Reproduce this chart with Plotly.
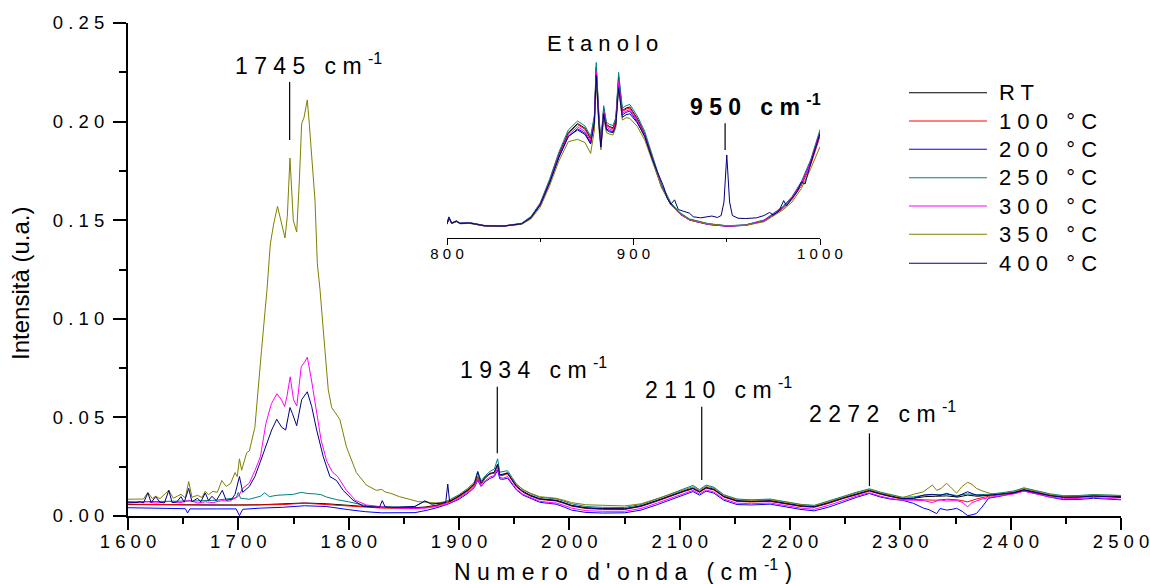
import plotly.graph_objects as go

FONT = "Arial, 'Liberation Sans', sans-serif"

# ---------------- series meta ----------------
names = ["RT", "100 °C", "200 °C", "250 °C", "300 °C", "350 °C", "400 °C"]
colors = ["#000000", "#FF0000", "#0000FF", "#008080", "#FF00FF", "#808000", "#000080"]

# ---------------- main spectra (1600-2500 cm-1) ----------------
x_rt = [1600, 1620, 1640, 1660, 1680, 1700, 1720, 1740, 1760, 1780,
        1800, 1815, 1830, 1845, 1860, 1870, 1880, 1890, 1900, 1908,
        1914, 1917, 1920, 1924, 1928, 1932, 1935, 1937, 1940, 1944,
        1948, 1952, 1958, 1965, 1973, 1981, 1988, 1995, 2002, 2015,
        2030, 2050, 2065, 2080, 2092, 2104, 2112, 2118, 2124, 2131,
        2140, 2152, 2165, 2182, 2197, 2210, 2222, 2235, 2248, 2260,
        2272, 2282, 2292, 2302, 2312, 2322, 2332, 2342, 2352, 2361,
        2370, 2380, 2392, 2403, 2412, 2424, 2436, 2448, 2462, 2475,
        2488, 2500]
y_rt = [0.0058, 0.0057, 0.0056, 0.0055, 0.0055, 0.0056, 0.0057, 0.0060, 0.0066, 0.0062,
        0.0053, 0.0048, 0.0045, 0.0043, 0.0042, 0.0046, 0.0055, 0.0072, 0.0100, 0.0130,
        0.0160, 0.0200, 0.0165, 0.0195, 0.0212, 0.0222, 0.0262, 0.0208, 0.0210, 0.0218,
        0.0185, 0.0152, 0.0125, 0.0105, 0.0088, 0.0082, 0.0080, 0.0068, 0.0054, 0.0042,
        0.0038, 0.0037, 0.0052, 0.0080, 0.0105, 0.0128, 0.0142, 0.0124, 0.0145, 0.0136,
        0.0100, 0.0078, 0.0075, 0.0078, 0.0064, 0.0052, 0.0048, 0.0068, 0.0092, 0.0112,
        0.0130, 0.0114, 0.0100, 0.0088, 0.0090, 0.0098, 0.0100, 0.0102, 0.0096, 0.0106,
        0.0100, 0.0104, 0.0112, 0.0120, 0.0134, 0.0120, 0.0105, 0.0097, 0.0098, 0.0103,
        0.0099, 0.0098]

x_100 = list(x_rt)
y_100 = [0.0060, 0.0058, 0.0056, 0.0054, 0.0054, 0.0055, 0.0055, 0.0058, 0.0065, 0.0058,
         0.0048, 0.0043, 0.0040, 0.0039, 0.0039, 0.0043, 0.0052, 0.0068, 0.0096, 0.0126,
         0.0156, 0.0196, 0.0160, 0.0192, 0.0218, 0.0215, 0.0258, 0.0204, 0.0206, 0.0214,
         0.0181, 0.0148, 0.0121, 0.0101, 0.0084, 0.0078, 0.0076, 0.0064, 0.0050, 0.0038,
         0.0034, 0.0033, 0.0048, 0.0076, 0.0101, 0.0124, 0.0138, 0.0120, 0.0141, 0.0132,
         0.0096, 0.0074, 0.0071, 0.0074, 0.0060, 0.0048, 0.0044, 0.0064, 0.0088, 0.0108,
         0.0126, 0.0110, 0.0096, 0.0085, 0.0084, 0.0082, 0.0080, 0.0085, 0.0082, 0.0072,
         0.0088, 0.0100, 0.0108, 0.0117, 0.0131, 0.0117, 0.0102, 0.0094, 0.0095, 0.0100,
         0.0096, 0.0094]

x_200 = [1600, 1620, 1640, 1652, 1654, 1656, 1680, 1698, 1701, 1704,
         1720, 1740, 1760, 1780, 1800, 1815, 1830, 1845, 1860, 1870,
         1880, 1890, 1900, 1908, 1914, 1917, 1920, 1924, 1928, 1932,
         1935, 1937, 1940, 1944, 1948, 1952, 1958, 1965, 1973, 1981,
         1988, 1995, 2002, 2015, 2030, 2050, 2065, 2080, 2092, 2104,
         2112, 2118, 2124, 2131, 2140, 2152, 2165, 2182, 2197, 2210,
         2222, 2235, 2248, 2260, 2272, 2282, 2292, 2302, 2312, 2321,
         2326, 2329, 2333, 2336, 2342, 2347, 2351, 2356, 2361, 2365,
         2369, 2374, 2380, 2392, 2403, 2412, 2424, 2436, 2448, 2462,
         2475, 2488, 2500]
y_200 = [0.0042, 0.0040, 0.0038, 0.0037, 0.0015, 0.0036, 0.0036, 0.0036, 0.0002, 0.0034,
         0.0040, 0.0044, 0.0052, 0.0048, 0.0032, 0.0022, 0.0016, 0.0015, 0.0017, 0.0028,
         0.0042, 0.0060, 0.0085, 0.0115, 0.0145, 0.0182, 0.0150, 0.0175, 0.0190, 0.0200,
         0.0232, 0.0188, 0.0186, 0.0192, 0.0162, 0.0132, 0.0106, 0.0088, 0.0070, 0.0064,
         0.0060, 0.0046, 0.0030, 0.0018, 0.0015, 0.0016, 0.0030, 0.0058, 0.0082, 0.0108,
         0.0124, 0.0106, 0.0126, 0.0116, 0.0080, 0.0058, 0.0056, 0.0060, 0.0045, 0.0033,
         0.0026, 0.0045, 0.0070, 0.0094, 0.0114, 0.0096, 0.0085, 0.0080, 0.0064, 0.0040,
         0.0032, 0.0022, 0.0012, 0.0038, 0.0030, 0.0034, 0.0039, 0.0024, 0.0002, 0.0006,
         0.0013, 0.0045, 0.0090, 0.0102, 0.0114, 0.0127, 0.0112, 0.0095, 0.0083, 0.0084,
         0.0090, 0.0086, 0.0082]

x_250 = [1600, 1620, 1640, 1660, 1680, 1698, 1700, 1702,
         1710, 1716, 1720, 1724, 1728, 1735, 1742, 1750, 1757, 1763,
         1770, 1775, 1780, 1790, 1800, 1816, 1830, 1845, 1860, 1869,
         1876, 1885, 1890, 1900, 1908, 1914, 1917, 1920, 1924, 1928,
         1932, 1935, 1937, 1940, 1944, 1948, 1952, 1958, 1965, 1973,
         1981, 1988, 1995, 2002, 2015, 2030, 2050, 2065, 2080, 2092,
         2104, 2112, 2118, 2124, 2131, 2140, 2152, 2165, 2182, 2197,
         2210, 2222, 2235, 2248, 2260, 2272, 2282, 2292, 2302, 2312,
         2322, 2332, 2342, 2352, 2361, 2370, 2380, 2392, 2403, 2412,
         2424, 2436, 2448, 2462, 2475, 2488, 2500]
y_250 = [0.0072, 0.0073, 0.0074, 0.0076, 0.0080, 0.0092, 0.0120, 0.0090,
         0.0085, 0.0095, 0.0100, 0.0118, 0.0098, 0.0105, 0.0108, 0.0110, 0.0120, 0.0114,
         0.0112, 0.0108, 0.0096, 0.0082, 0.0072, 0.0052, 0.0047, 0.0045, 0.0048, 0.0076,
         0.0062, 0.0068, 0.0078, 0.0108, 0.0140, 0.0172, 0.0228, 0.0178, 0.0205, 0.0226,
         0.0238, 0.0290, 0.0222, 0.0224, 0.0230, 0.0196, 0.0162, 0.0134, 0.0113, 0.0095,
         0.0089, 0.0087, 0.0075, 0.0062, 0.0048, 0.0044, 0.0043, 0.0058, 0.0087, 0.0113,
         0.0138, 0.0155, 0.0134, 0.0157, 0.0146, 0.0108, 0.0086, 0.0082, 0.0086, 0.0071,
         0.0059, 0.0054, 0.0075, 0.0099, 0.0120, 0.0138, 0.0121, 0.0107, 0.0095, 0.0097,
         0.0106, 0.0108, 0.0110, 0.0104, 0.0112, 0.0108, 0.0110, 0.0118, 0.0127, 0.0143,
         0.0128, 0.0112, 0.0103, 0.0104, 0.0109, 0.0106, 0.0104]

x_300 = [1600, 1611, 1618, 1625, 1637, 1648, 1655, 1663, 1670, 1677,
         1685, 1692, 1700, 1704, 1710, 1715, 1720, 1725, 1730, 1735,
         1739, 1742, 1744, 1747, 1750, 1753, 1757, 1760, 1762.5, 1766,
         1771, 1775, 1780, 1785, 1790, 1798, 1806, 1816, 1830, 1845,
         1860, 1870, 1880, 1890, 1900, 1908, 1914, 1917, 1920, 1924,
         1928, 1932, 1935, 1937, 1940, 1944, 1948, 1952, 1958, 1965,
         1973, 1981, 1988, 1995, 2002, 2015, 2030, 2050, 2065, 2080,
         2092, 2104, 2112, 2118, 2124, 2131, 2140, 2152, 2165, 2182,
         2197, 2210, 2222, 2235, 2248, 2260, 2272, 2282, 2292, 2302,
         2312, 2321, 2329, 2336, 2342, 2351, 2356, 2361, 2365, 2374,
         2385, 2395, 2403, 2412, 2424, 2436, 2448, 2462, 2475, 2488,
         2500]
y_300 = [0.0066, 0.0068, 0.0072, 0.0066, 0.0074, 0.0068, 0.0080, 0.0066, 0.0072, 0.0068,
         0.0078, 0.0075, 0.0100, 0.0140, 0.0167, 0.0230, 0.0300, 0.0470, 0.0570, 0.0620,
         0.0590, 0.0555, 0.0605, 0.0706, 0.0590, 0.0558, 0.0757, 0.0780, 0.0805, 0.0700,
         0.0520, 0.0385, 0.0280, 0.0225, 0.0200, 0.0130, 0.0080, 0.0056, 0.0046, 0.0040,
         0.0038, 0.0040, 0.0048, 0.0062, 0.0090, 0.0120, 0.0150, 0.0188, 0.0152, 0.0180,
         0.0198, 0.0205, 0.0245, 0.0195, 0.0192, 0.0200, 0.0168, 0.0136, 0.0110, 0.0092,
         0.0075, 0.0069, 0.0066, 0.0054, 0.0040, 0.0027, 0.0024, 0.0024, 0.0038, 0.0066,
         0.0090, 0.0115, 0.0130, 0.0112, 0.0132, 0.0122, 0.0086, 0.0065, 0.0062, 0.0066,
         0.0052, 0.0040, 0.0034, 0.0054, 0.0078, 0.0100, 0.0118, 0.0100, 0.0088, 0.0080,
         0.0080, 0.0078, 0.0068, 0.0082, 0.0076, 0.0078, 0.0070, 0.0047, 0.0068, 0.0086,
         0.0098, 0.0106, 0.0112, 0.0126, 0.0112, 0.0096, 0.0088, 0.0089, 0.0094, 0.0089,
         0.0085]

x_350 = [1600, 1611, 1614, 1618, 1622, 1625, 1629, 1637, 1641, 1648,
         1652, 1655, 1658, 1663, 1667, 1670, 1673, 1677, 1681, 1685,
         1689, 1693, 1697, 1699, 1701, 1703, 1707.5, 1710, 1715, 1721,
         1726, 1729, 1732, 1735.5, 1739, 1742.3, 1744.4, 1746.8, 1749.8, 1752.9,
         1755.3, 1757.4, 1759.5, 1762.5, 1764.3, 1766.8, 1769.5, 1771.6, 1774, 1778.5,
         1781.5, 1784.6, 1792, 1798, 1807, 1816, 1825, 1830, 1833, 1838,
         1846, 1855, 1863, 1870, 1880, 1890, 1900, 1908, 1914, 1917,
         1920, 1924, 1928, 1932, 1935, 1937, 1940, 1944, 1948, 1952,
         1958, 1965, 1973, 1981, 1988, 1995, 2002, 2015, 2030, 2050,
         2065, 2080, 2092, 2104, 2112, 2118, 2124, 2131, 2140, 2152,
         2165, 2182, 2197, 2210, 2222, 2235, 2248, 2260, 2272, 2282,
         2292, 2302, 2312, 2321, 2329, 2333, 2337, 2342, 2347, 2351,
         2356, 2361, 2365, 2369, 2374, 2379, 2385, 2395, 2403, 2412,
         2424, 2436, 2448, 2462, 2475, 2488, 2500]
y_350 = [0.0085, 0.0088, 0.0086, 0.0120, 0.0088, 0.0100, 0.0088, 0.0130, 0.0090, 0.0110,
         0.0092, 0.0175, 0.0095, 0.0105, 0.0094, 0.0125, 0.0108, 0.0125, 0.0120, 0.0180,
         0.0150, 0.0165, 0.0220, 0.0200, 0.0290, 0.0232, 0.0320, 0.0330, 0.0450, 0.0840,
         0.1150, 0.1380, 0.1480, 0.1570, 0.1480, 0.1410, 0.1520, 0.1815, 0.1500, 0.1440,
         0.1700, 0.1990, 0.2020, 0.2110, 0.1990, 0.1820, 0.1600, 0.1280, 0.1150, 0.0840,
         0.0640, 0.0550, 0.0490, 0.0350, 0.0220, 0.0157, 0.0130, 0.0135, 0.0122, 0.0115,
         0.0098, 0.0085, 0.0073, 0.0070, 0.0066, 0.0075, 0.0105, 0.0135, 0.0165, 0.0200,
         0.0168, 0.0195, 0.0212, 0.0220, 0.0260, 0.0210, 0.0212, 0.0220, 0.0190, 0.0160,
         0.0134, 0.0115, 0.0098, 0.0092, 0.0090, 0.0080, 0.0068, 0.0057, 0.0053, 0.0051,
         0.0062, 0.0087, 0.0110, 0.0133, 0.0148, 0.0130, 0.0150, 0.0141, 0.0104, 0.0083,
         0.0080, 0.0083, 0.0068, 0.0057, 0.0052, 0.0072, 0.0095, 0.0117, 0.0134, 0.0118,
         0.0104, 0.0093, 0.0110, 0.0123, 0.0157, 0.0130, 0.0140, 0.0166, 0.0138, 0.0116,
         0.0150, 0.0171, 0.0160, 0.0140, 0.0128, 0.0118, 0.0108, 0.0114, 0.0123, 0.0140,
         0.0125, 0.0108, 0.0100, 0.0101, 0.0106, 0.0104, 0.0104]

x_400 = [1600, 1607, 1611, 1614, 1618, 1621, 1625, 1629, 1633, 1637,
         1640, 1644, 1648, 1651, 1655, 1658, 1663, 1666, 1670, 1673,
         1676, 1680, 1685.5, 1689, 1694, 1697, 1701, 1704, 1710, 1715,
         1719.6, 1725.7, 1730.2, 1734.8, 1739.3, 1742.9, 1746.8, 1749, 1752.9, 1757.4,
         1762.5, 1766.5, 1771, 1777, 1783, 1789, 1795, 1804, 1813, 1822,
         1828, 1830.5, 1833, 1840, 1850, 1860, 1869, 1875, 1885, 1888,
         1889.8, 1891.5, 1900, 1908, 1914, 1917, 1920, 1924, 1928, 1932,
         1935, 1937, 1940, 1944, 1948, 1952, 1958, 1965, 1973, 1981,
         1988, 1995, 2002, 2015, 2030, 2050, 2065, 2080, 2092, 2104,
         2112, 2118, 2124, 2131, 2140, 2152, 2165, 2182, 2197, 2210,
         2222, 2235, 2248, 2260, 2272, 2282, 2292, 2302, 2312, 2321,
         2329, 2336, 2342, 2351, 2356, 2361, 2365, 2369, 2378, 2392,
         2403, 2412, 2424, 2436, 2448, 2462, 2475, 2488, 2500]
y_400 = [0.0070, 0.0068, 0.0072, 0.0066, 0.0117, 0.0068, 0.0098, 0.0070, 0.0066, 0.0130,
         0.0068, 0.0070, 0.0098, 0.0070, 0.0140, 0.0072, 0.0090, 0.0072, 0.0117, 0.0078,
         0.0100, 0.0078, 0.0130, 0.0080, 0.0085, 0.0110, 0.0200, 0.0120, 0.0150, 0.0200,
         0.0270, 0.0370, 0.0436, 0.0490, 0.0450, 0.0436, 0.0550, 0.0520, 0.0458, 0.0590,
         0.0630, 0.0555, 0.0436, 0.0300, 0.0200, 0.0180, 0.0130, 0.0080, 0.0050, 0.0046,
         0.0045, 0.0078, 0.0046, 0.0044, 0.0045, 0.0048, 0.0076, 0.0060, 0.0066, 0.0070,
         0.0162, 0.0072, 0.0102, 0.0132, 0.0165, 0.0222, 0.0168, 0.0200, 0.0215, 0.0222,
         0.0262, 0.0208, 0.0212, 0.0218, 0.0184, 0.0150, 0.0122, 0.0102, 0.0086, 0.0080,
         0.0078, 0.0066, 0.0052, 0.0040, 0.0036, 0.0035, 0.0050, 0.0078, 0.0103, 0.0126,
         0.0140, 0.0122, 0.0143, 0.0134, 0.0098, 0.0076, 0.0073, 0.0076, 0.0062, 0.0050,
         0.0046, 0.0066, 0.0090, 0.0110, 0.0128, 0.0112, 0.0098, 0.0088, 0.0090, 0.0106,
         0.0110, 0.0104, 0.0115, 0.0098, 0.0112, 0.0123, 0.0114, 0.0106, 0.0104, 0.0110,
         0.0118, 0.0132, 0.0118, 0.0103, 0.0095, 0.0096, 0.0101, 0.0097, 0.0095]

# ---------------- inset: Etanolo (800-1000 cm-1, arbitrary units) ----------------
x_in = [800, 801, 802.5, 805, 807, 812, 815, 820, 830, 840,
        845, 850, 855, 860, 865, 870, 874, 877, 879, 880,
        881.5, 882.5, 884, 885.5, 887, 889, 890.5, 892, 894, 896,
        898, 902, 906, 910, 915, 920, 925, 930, 940, 950,
        960, 970, 980, 985, 990, 995, 1000]
in_rt = [0.079, 0.115, 0.083, 0.094, 0.082, 0.084, 0.079, 0.069, 0.066, 0.080,
         0.116, 0.190, 0.318, 0.466, 0.586, 0.636, 0.610, 0.553, 0.665, 0.950,
         0.655, 0.528, 0.720, 0.630, 0.620, 0.612, 0.655, 0.895, 0.708, 0.722,
         0.728, 0.665, 0.580, 0.452, 0.292, 0.190, 0.136, 0.103, 0.078, 0.067,
         0.072, 0.098, 0.170, 0.226, 0.306, 0.428, 0.592]
in_100 = [0.078, 0.114, 0.082, 0.093, 0.081, 0.083, 0.078, 0.068, 0.066, 0.079,
          0.114, 0.187, 0.313, 0.460, 0.580, 0.630, 0.604, 0.548, 0.660, 0.940,
          0.650, 0.524, 0.714, 0.625, 0.615, 0.607, 0.650, 0.885, 0.702, 0.716,
          0.722, 0.659, 0.574, 0.446, 0.287, 0.186, 0.133, 0.100, 0.076, 0.066,
          0.070, 0.094, 0.162, 0.214, 0.290, 0.405, 0.565]
in_200 = [0.077, 0.112, 0.081, 0.092, 0.080, 0.082, 0.077, 0.067, 0.065, 0.078,
          0.112, 0.183, 0.305, 0.448, 0.562, 0.607, 0.582, 0.528, 0.640, 0.915,
          0.630, 0.508, 0.695, 0.606, 0.597, 0.590, 0.633, 0.865, 0.683, 0.698,
          0.705, 0.645, 0.562, 0.438, 0.283, 0.184, 0.132, 0.100, 0.075, 0.065,
          0.070, 0.096, 0.168, 0.223, 0.302, 0.422, 0.585]
in_250 = [0.080, 0.118, 0.084, 0.096, 0.083, 0.086, 0.080, 0.070, 0.067, 0.082,
          0.120, 0.196, 0.327, 0.478, 0.600, 0.650, 0.622, 0.566, 0.680, 0.975,
          0.670, 0.540, 0.735, 0.642, 0.632, 0.625, 0.668, 0.920, 0.722, 0.735,
          0.742, 0.678, 0.592, 0.462, 0.300, 0.196, 0.140, 0.106, 0.080, 0.068,
          0.073, 0.100, 0.174, 0.230, 0.313, 0.435, 0.602]
in_300 = [0.078, 0.113, 0.082, 0.093, 0.081, 0.083, 0.078, 0.068, 0.066, 0.079,
          0.114, 0.186, 0.310, 0.455, 0.572, 0.618, 0.592, 0.538, 0.652, 0.925,
          0.640, 0.516, 0.705, 0.615, 0.606, 0.598, 0.641, 0.872, 0.692, 0.706,
          0.712, 0.652, 0.568, 0.442, 0.285, 0.185, 0.132, 0.100, 0.076, 0.066,
          0.071, 0.097, 0.170, 0.225, 0.305, 0.425, 0.588]
in_350 = [0.076, 0.110, 0.080, 0.090, 0.079, 0.081, 0.076, 0.067, 0.066, 0.076,
          0.106, 0.172, 0.290, 0.428, 0.535, 0.548, 0.530, 0.470, 0.600, 0.880,
          0.600, 0.490, 0.665, 0.585, 0.578, 0.572, 0.612, 0.835, 0.655, 0.668,
          0.665, 0.620, 0.545, 0.428, 0.282, 0.186, 0.134, 0.102, 0.078, 0.068,
          0.070, 0.090, 0.155, 0.200, 0.275, 0.385, 0.507]
x_in_400 = [800, 801, 802.5, 805, 807, 812, 815, 820, 830, 840,
            845, 850, 855, 860, 865, 870, 874, 877, 879, 880,
            881.5, 882.5, 884, 885.5, 887, 889, 890.5, 892, 894, 896,
            898, 902, 906, 910, 913, 916, 918, 920, 922, 924,
            930, 932, 936, 942, 945, 947, 948.5, 950, 951.5, 953, 956,
            960, 966, 970, 973, 975, 978, 980.5, 982, 985, 988, 990, 992, 995, 1000]
in_400 = [0.078, 0.114, 0.082, 0.093, 0.081, 0.083, 0.078, 0.068, 0.066, 0.079,
          0.113, 0.185, 0.308, 0.450, 0.565, 0.600, 0.575, 0.522, 0.640, 0.905,
          0.625, 0.505, 0.690, 0.600, 0.590, 0.585, 0.628, 0.835, 0.670, 0.685,
          0.690, 0.640, 0.565, 0.440, 0.362, 0.290, 0.222, 0.188, 0.212, 0.158,
          0.138, 0.118, 0.112, 0.122, 0.114, 0.125, 0.200, 0.461, 0.200, 0.125, 0.110,
          0.108, 0.112, 0.125, 0.142, 0.128, 0.150, 0.208, 0.178, 0.222, 0.262, 0.312, 0.300, 0.415, 0.580]

main_x = [x_rt, x_100, x_200, x_250, x_300, x_350, x_400]
main_y = [y_rt, y_100, y_200, y_250, y_300, y_350, y_400]
inset_x = [x_in, x_in, x_in, x_in, x_in, x_in, x_in_400]
inset_y = [in_rt, in_100, in_200, in_250, in_300, in_350, in_400]

# ---------------- ticks & labels ----------------
x_ticks = [1600, 1700, 1800, 1900, 2000, 2100, 2200, 2300, 2400, 2500]
y_ticks = [0.00, 0.05, 0.10, 0.15, 0.20, 0.25]
inset_ticks = [800, 900, 1000]

peak_labels = ["1745", "1934", "2110", "2272"]
peak_label_x = [1695.2, 1899.1, 2066.8, 2215.4]
peak_label_y = [0.2292, 0.0750, 0.0649, 0.0527]
peak_line_x = [1746.5, 1934.7, 2120.0, 2272.0]
peak_line_y0 = [0.1907, 0.0318, 0.0183, 0.0152]
peak_line_y1 = [0.2201, 0.0656, 0.0554, 0.0419]


def spaced(s):
    return " \u00a0 ".join(" ".join(w) for w in s.split(" "))


def cm_label(num):
    return spaced(num) + " \u00a0 c m <sup>-1</sup>"


fig = go.Figure()
for nm, col, xs, ys in zip(names, colors, main_x, main_y):
    fig.add_trace(go.Scatter(x=xs, y=ys, mode="lines", name=nm,
                             line=dict(color=col, width=1.0),
                             xaxis="x", yaxis="y", showlegend=False))
for nm, col, xs, ys in zip(names, colors, inset_x, inset_y):
    fig.add_trace(go.Scatter(x=xs, y=ys, mode="lines", name=nm,
                             line=dict(color=col, width=1.0),
                             xaxis="x2", yaxis="y2", showlegend=False))

axis_common = dict(showgrid=False, zeroline=False, showline=True, linecolor="black",
                   ticks="outside", tickcolor="black", automargin=False)

annotations = []
shapes = []

for lab, lx, ly, px_, y0, y1 in zip(peak_labels, peak_label_x, peak_label_y,
                                     peak_line_x, peak_line_y0, peak_line_y1):
    annotations.append(dict(x=lx, y=ly, xref="x", yref="y", text=cm_label(lab),
                            showarrow=False, xanchor="left", yanchor="middle",
                            font=dict(family=FONT, size=23, color="black")))
    shapes.append(dict(type="line", xref="x", yref="y", x0=px_, x1=px_, y0=y0, y1=y1,
                       line=dict(color="black", width=1.2)))

# inset labels
annotations.append(dict(x=929.3, y=0.740, xref="x2", yref="y2", text="<b>" + cm_label("950") + "</b>",
                        showarrow=False, xanchor="left", yanchor="middle",
                        font=dict(family=FONT, size=23, color="black")))
shapes.append(dict(type="line", xref="x2", yref="y2", x0=949.1, x1=949.1, y0=0.489, y1=0.637,
                   line=dict(color="black", width=1.2)))
annotations.append(dict(x=0.4775, y=0.9594, xref="paper", yref="paper", text=spaced("Etanolo"),
                        showarrow=False, xanchor="center", yanchor="middle",
                        font=dict(family=FONT, size=22, color="black")))

# axis titles
annotations.append(dict(x=0.4985, y=-0.1095, xref="paper", yref="paper",
                        text=spaced("Numero d'onda") + " \u00a0 ( c m <sup>-1</sup> )",
                        showarrow=False, xanchor="center", yanchor="middle",
                        font=dict(family=FONT, size=23, color="black")))
annotations.append(dict(x=-0.1088, y=0.4726, xref="paper", yref="paper",
                        text="Intensità (u.a.)", textangle=-90,
                        showarrow=False, xanchor="center", yanchor="middle",
                        font=dict(family=FONT, size=24, color="black")))

# manual legend
leg_y = [0.8586, 0.8012, 0.7438, 0.6862, 0.6288, 0.5714, 0.5126]
for nm, col, ly in zip(names, colors, leg_y):
    shapes.append(dict(type="line", xref="paper", yref="paper", x0=0.7865, x1=0.8650,
                       y0=ly, y1=ly, line=dict(color=col, width=1.1)))
    annotations.append(dict(x=0.8751, y=ly, xref="paper", yref="paper", text=spaced(nm),
                            showarrow=False, xanchor="left", yanchor="middle",
                            font=dict(family=FONT, size=22, color="black")))

fig.update_layout(
    width=1150, height=584,
    margin=dict(l=128, r=29, t=23, b=68, autoexpand=False),
    paper_bgcolor="white", plot_bgcolor="white",
    font=dict(family=FONT, color="black"),
    showlegend=False,
    xaxis=dict(domain=[0, 1], range=[1600, 2500], anchor="y",
               tickmode="array", tickvals=x_ticks,
               ticktext=[spaced(str(v)) for v in x_ticks],
               ticklen=12, tickwidth=2, linewidth=2, ticklabelstandoff=-4,
               tickfont=dict(family=FONT, size=18.5, color="black"),
               minor=dict(tick0=1600, dtick=50, ticklen=6, tickwidth=2,
                          ticks="outside", tickcolor="black", showgrid=False),
               **axis_common),
    yaxis=dict(domain=[0, 1], range=[0, 0.25], anchor="x",
               tickmode="array", tickvals=y_ticks,
               ticktext=[spaced(f"{v:.2f}") for v in y_ticks],
               ticklen=13, tickwidth=2, linewidth=2, ticklabelstandoff=5,
               tickfont=dict(family=FONT, size=18.5, color="black"),
               minor=dict(tick0=0, dtick=0.025, ticklen=7, tickwidth=2,
                          ticks="outside", tickcolor="black", showgrid=False),
               **axis_common),
    xaxis2=dict(domain=[0.3213, 0.6969], range=[800, 1000], anchor="y2",
                tickmode="array", tickvals=inset_ticks,
                ticktext=[spaced(str(v)) for v in inset_ticks],
                ticklen=6, tickwidth=1.3, linewidth=1.3, ticklabelstandoff=-4,
                tickfont=dict(family=FONT, size=15, color="black"),
                minor=dict(tick0=800, dtick=50, ticklen=3, tickwidth=1.3,
                           ticks="outside", tickcolor="black", showgrid=False),
                **axis_common),
    yaxis2=dict(domain=[0.5639, 0.929], range=[0, 1], anchor="x2", visible=False),
    annotations=annotations,
    shapes=shapes,
)

fig.write_html("out.html")
